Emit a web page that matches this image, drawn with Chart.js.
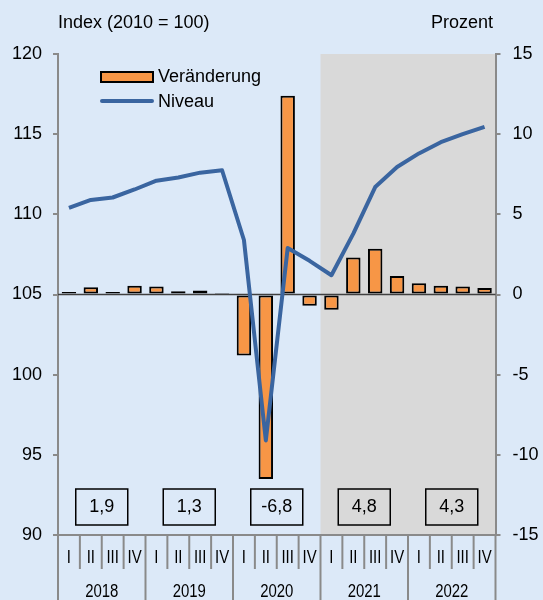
<!DOCTYPE html>
<html>
<head>
<meta charset="utf-8">
<script src="https://cdn.jsdelivr.net/npm/chart.js@4/dist/chart.umd.min.js"></script>
<style>
html,body{margin:0;padding:0;background:#DCE9F8;}
canvas{display:block;}
</style>
</head>
<body>
<canvas id="c" width="543" height="600"></canvas>
<script>
// ---- data ----
const years = ['2018', '2019', '2020', '2021', '2022'];
const quarters = ['I', 'II', 'III', 'IV'];
const veraenderung = [0.15, 0.45, 0.15, 0.55, 0.5, 0.2, 0.25, 0.1, -3.8, -11.5, 12.4, -0.7, -0.95, 2.3, 2.85, 1.15, 0.7, 0.55, 0.5, 0.4];
const niveau = [110.4, 110.9, 111.05, 111.55, 112.1, 112.3, 112.6, 112.75, 108.4, 95.9, 107.9, 107.1, 106.2, 108.8, 111.7, 112.95, 113.8, 114.5, 115.0, 115.45];
const annual = ['1,9', '1,3', '-6,8', '4,8', '4,3'];
const forecastStart = 12; // first forecast quarter (2021 I)
const leftTitle = 'Index (2010 = 100)';
const rightTitle = 'Prozent';
const seriesNames = ['Veränderung', 'Niveau'];

// ---- styles ----
const BG = '#DCE9F8';
const SHADE = '#D9D9D9';
const ORANGE = '#F79646';
const BLUE = '#3A65A0';
const AXIS = '#8A8A8A';
const FONT = '"Liberation Sans", Arial, sans-serif';

const labels = years.flatMap(y => quarters.map(q => q + ' ' + y));

Chart.defaults.font.family = FONT;
Chart.defaults.font.size = 18;
Chart.defaults.color = '#000';

function edge(chart, i) {
  const a = chart.chartArea, x = chart.scales.x;
  if (i <= 0) return a.left;
  if (i >= labels.length) return a.right;
  return (x.getPixelForValue(i - 1) + x.getPixelForValue(i)) / 2;
}

const deco = {
  id: 'deco',
  beforeDraw(chart) {
    const {ctx, chartArea: a} = chart;
    ctx.save();
    ctx.fillStyle = BG;
    ctx.fillRect(0, 0, chart.width, chart.height);
    const xs = edge(chart, forecastStart);
    ctx.fillStyle = SHADE;
    ctx.fillRect(xs, a.top, a.right - xs, a.bottom - a.top);
    ctx.restore();
  },
  beforeDatasetsDraw(chart) {
    const {ctx, chartArea: a, scales: {y1}} = chart;
    const y0 = y1.getPixelForValue(0);
    ctx.save();
    ctx.strokeStyle = '#404040';
    ctx.lineWidth = 1.5;
    ctx.beginPath(); ctx.moveTo(a.left, y0); ctx.lineTo(a.right, y0); ctx.stroke();
    ctx.restore();
  },
  afterDraw(chart) {
    const {ctx, chartArea: a} = chart;
    ctx.save();
    // bottom axis line
    ctx.strokeStyle = AXIS;
    ctx.lineWidth = 2;
    ctx.beginPath(); ctx.moveTo(a.left, a.bottom); ctx.lineTo(a.right, a.bottom); ctx.stroke();
    // separators
    for (let i = 0; i <= labels.length; i++) {
      const xx = edge(chart, i);
      const yearSep = i % 4 === 0;
      ctx.beginPath();
      ctx.moveTo(xx, a.bottom);
      ctx.lineTo(xx, yearSep ? chart.height : a.bottom + 34);
      ctx.stroke();
    }
    // quarter & year labels (horizontally condensed)
    ctx.fillStyle = '#000';
    ctx.font = '18px ' + FONT;
    ctx.textAlign = 'center';
    ctx.textBaseline = 'middle';
    for (let i = 0; i < labels.length; i++) {
      const cx = (edge(chart, i) + edge(chart, i + 1)) / 2;
      ctx.save();
      ctx.translate(cx, a.bottom + 23);
      ctx.scale(0.83, 1);
      ctx.fillText(quarters[i % 4], 0, 0);
      ctx.restore();
    }
    years.forEach((y, k) => {
      const cx = (edge(chart, 4 * k) + edge(chart, 4 * k + 4)) / 2;
      ctx.save();
      ctx.translate(cx, a.bottom + 57);
      ctx.scale(0.83, 1);
      ctx.fillText(y, 0, 0);
      ctx.restore();
    });
    // annual boxes
    ctx.strokeStyle = '#000';
    ctx.lineWidth = 1.5;
    annual.forEach((t, k) => {
      const cx = (edge(chart, 4 * k) + edge(chart, 4 * k + 4)) / 2;
      ctx.strokeRect(cx - 26, a.bottom - 46, 52, 36);
      ctx.fillText(t, cx, a.bottom - 28);
    });
    // axis titles
    ctx.textAlign = 'left';
    ctx.fillText(leftTitle, a.left, 23);
    ctx.textAlign = 'right';
    ctx.fillText(rightTitle, 493, 23);
    // legend
    ctx.textAlign = 'left';
    ctx.fillStyle = ORANGE;
    ctx.fillRect(101, 72, 52, 10);
    ctx.strokeStyle = '#000';
    ctx.lineWidth = 2;
    ctx.strokeRect(101, 72, 52, 10);
    ctx.fillStyle = '#000';
    ctx.fillText(seriesNames[0], 158, 77);
    ctx.strokeStyle = BLUE;
    ctx.lineWidth = 4;
    ctx.lineCap = 'round';
    ctx.beginPath(); ctx.moveTo(102, 101); ctx.lineTo(152, 101); ctx.stroke();
    ctx.fillText(seriesNames[1], 158, 102);
    ctx.restore();
  }
};

new Chart(document.getElementById('c'), {
  type: 'bar',
  data: {
    labels: labels,
    datasets: [
      {
        type: 'line',
        label: seriesNames[1],
        data: niveau,
        yAxisID: 'y',
        borderColor: BLUE,
        borderWidth: 4,
        pointRadius: 0,
        tension: 0,
        fill: false,
        borderJoinStyle: 'round',
        order: 0
      },
      {
        type: 'bar',
        label: seriesNames[0],
        data: veraenderung,
        yAxisID: 'y1',
        backgroundColor: ORANGE,
        borderColor: '#000',
        borderWidth: 2,
        borderSkipped: false,
        categoryPercentage: 1,
        barPercentage: 0.66,
        order: 1
      }
    ]
  },
  options: {
    responsive: false,
    animation: false,
    layout: {padding: {top: 54, bottom: 65, left: 0, right: 0}},
    plugins: {legend: {display: false}, tooltip: {enabled: false}},
    scales: {
      x: {display: false},
      y: {
        position: 'left',
        min: 90, max: 120,
        ticks: {stepSize: 5, padding: 11, font: {size: 18}, color: '#000'},
        grid: {drawOnChartArea: false, drawTicks: true, tickLength: 5, color: AXIS, lineWidth: 2},
        border: {display: true, color: AXIS, width: 2},
        afterFit(s) { s.width = 58; }
      },
      y1: {
        position: 'right',
        min: -15, max: 15,
        ticks: {stepSize: 5, padding: 12, font: {size: 18}, color: '#000'},
        grid: {drawOnChartArea: false, drawTicks: true, tickLength: 5, color: AXIS, lineWidth: 2},
        border: {display: true, color: AXIS, width: 2},
        afterFit(s) { s.width = 47.5; }
      }
    }
  },
  plugins: [deco]
});
</script>
</body>
</html>
